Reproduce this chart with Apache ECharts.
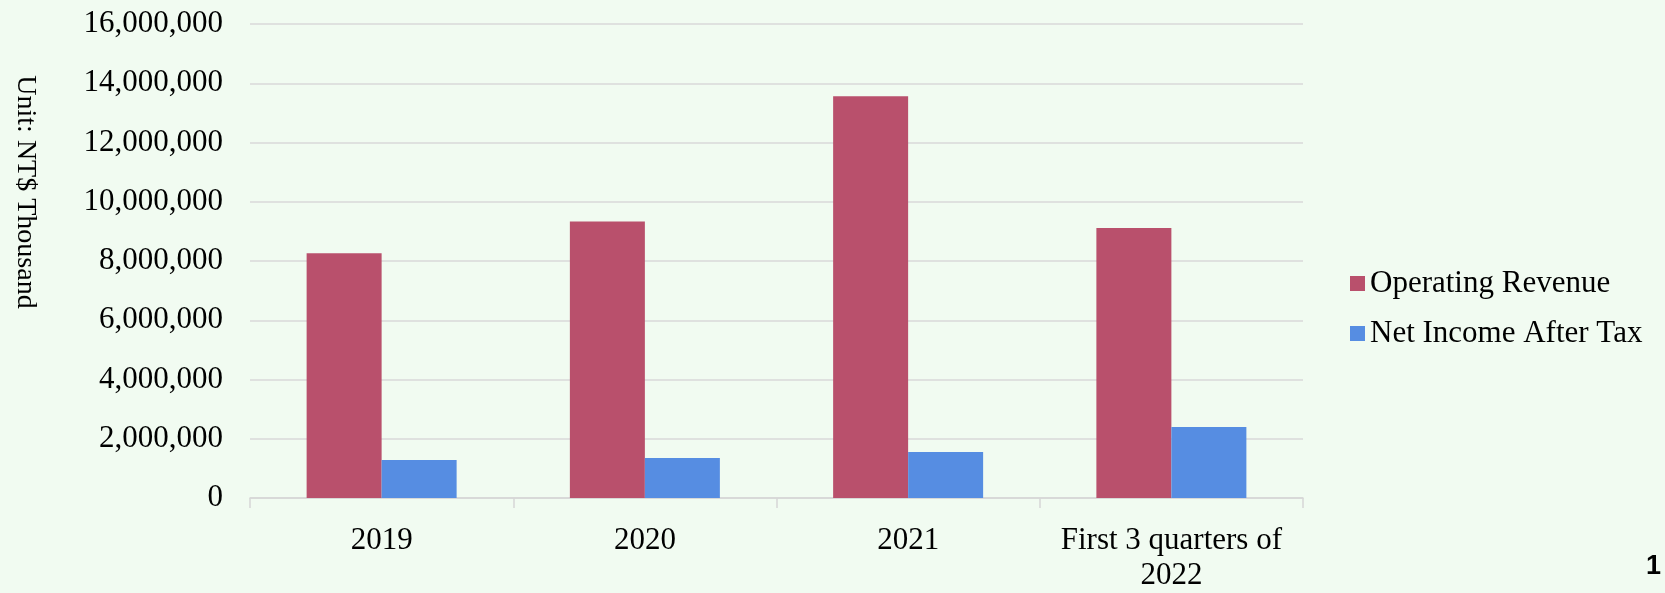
<!DOCTYPE html>
<html>
<head>
<meta charset="utf-8">
<script src="https://cdn.jsdelivr.net/npm/echarts@6/dist/echarts.min.js"></script>
<style>
html,body{margin:0;padding:0;background:#F1FBF1;}
#chart{width:1665px;height:593px;}
</style>
</head>
<body>
<div id="chart"></div>
<script>
var categories = ['2019', '2020', '2021', 'First 3 quarters of\n2022'];
var seriesNames = ['Operating Revenue', 'Net Income After Tax'];
var operatingRevenue = [8260000, 9330000, 13560000, 9110000];
var netIncomeAfterTax = [1280000, 1350000, 1550000, 2400000];
var yAxisName = 'Unit: NT$ Thousand';
var pageNumber = '1';

var serif = '"Liberation Serif", "Times New Roman", serif';
var chart = echarts.init(document.getElementById('chart'));
chart.setOption({
  backgroundColor: '#F1FBF1',
  animation: false,
  grid: { left: 250, right: 362, top: 24, bottom: 87, containLabel: false },
  legend: {
    orient: 'vertical',
    left: 1345,
    top: 263,
    itemWidth: 15,
    itemHeight: 15,
    itemGap: 19,
    icon: 'rect',
    textStyle: { fontFamily: serif, fontSize: 31, color: '#000', lineHeight: 31, padding: [0,0,0,0] },
    data: seriesNames
  },
  xAxis: {
    type: 'category',
    data: categories,
    axisLine: { show: true, lineStyle: { color: '#D6D6D6', width: 1.5 } },
    axisTick: { show: true, length: 10, lineStyle: { color: '#D6D6D6', width: 1.5 } },
    axisLabel: { fontFamily: serif, fontSize: 31, color: '#000', margin: 25, lineHeight: 35, interval: 0 }
  },
  yAxis: {
    type: 'value',
    min: 0,
    max: 16000000,
    interval: 2000000,
    axisLine: { show: false },
    axisTick: { show: false },
    splitLine: { lineStyle: { color: '#D9D9D9', width: 1.5 } },
    axisLabel: {
      fontFamily: serif, fontSize: 31, color: '#000', margin: 27,
      formatter: function (v) { return v.toLocaleString('en-US'); }
    }
  },
  series: [
    { name: seriesNames[0], type: 'bar', data: operatingRevenue, barWidth: 75, barGap: '0%',
      itemStyle: { color: '#B9506C' } },
    { name: seriesNames[1], type: 'bar', data: netIncomeAfterTax, barWidth: 75, barGap: '0%',
      itemStyle: { color: '#568DE2' } }
  ],
  graphic: [
    { type: 'text', x: 25, y: 192, rotation: -Math.PI / 2,
      style: { text: yAxisName, fontFamily: serif, fontSize: 28, fill: '#000', textAlign: 'center', textVerticalAlign: 'middle' } },
    { type: 'text', right: 4, top: 553,
      style: { text: pageNumber, fontFamily: '"Liberation Sans", Arial, sans-serif', fontWeight: 'bold', fontSize: 27, fill: '#000' } }
  ]
});
</script>
</body>
</html>
